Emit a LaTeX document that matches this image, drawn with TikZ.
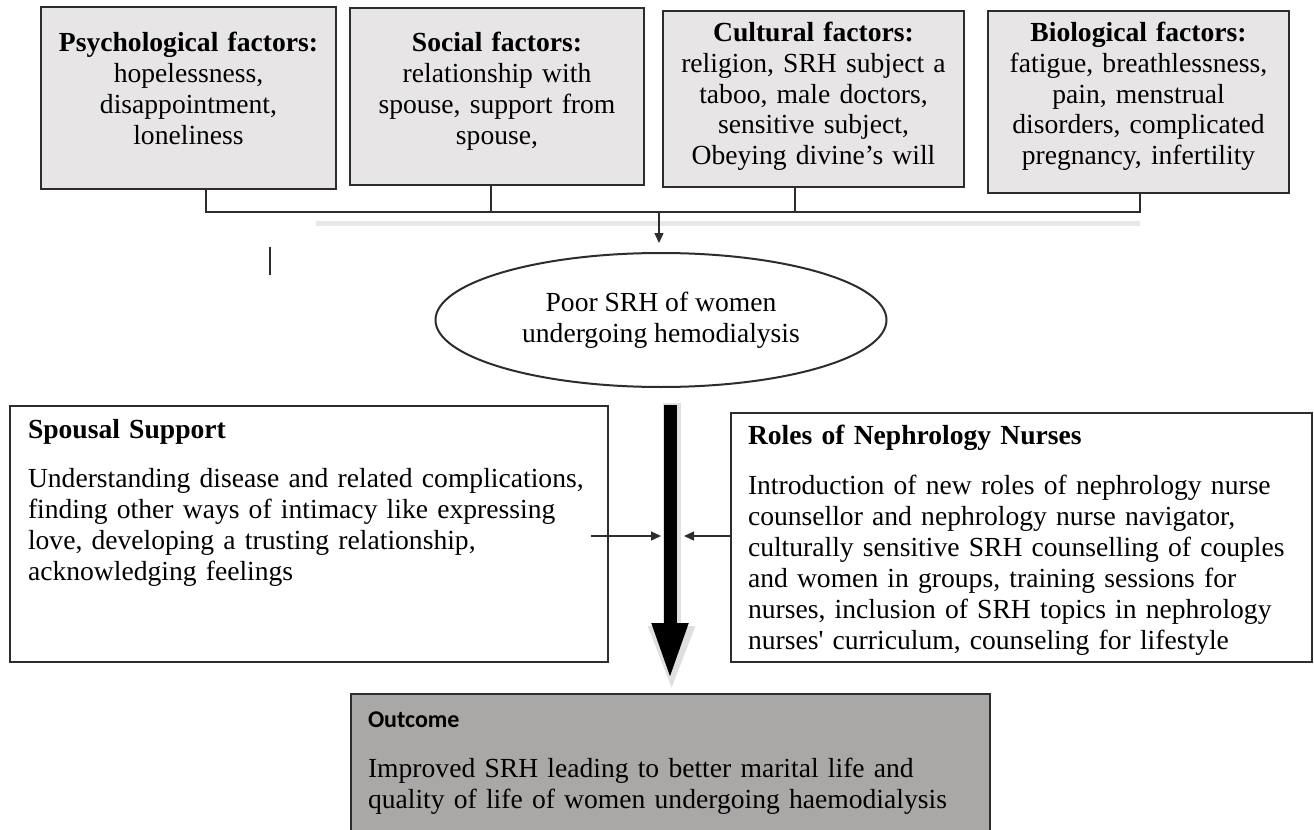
\documentclass[tikz,border=0pt]{standalone}
\usepackage{fontspec}
\setmainfont{Liberation Serif}
\newfontfamily\calibri{Carlito}
\usetikzlibrary{arrows.meta, positioning, calc, shapes.geometric}

\definecolor{factorgray}{RGB}{231,229,229}
\definecolor{outgray}{RGB}{170,167,167}
\definecolor{framegray}{RGB}{45,45,45}

\begin{document}
\begin{tikzpicture}[
    x=0.5pt, y=-0.5pt,
    factor/.style={rectangle, draw=framegray, line width=1pt, fill=factorgray, anchor=north west, align=center, inner sep=0pt, font=\fontsize{13.8}{15.5}\selectfont},
    panel/.style={rectangle, draw=framegray, line width=1pt, fill=white, anchor=north west, align=left, inner ysep=0pt, font=\fontsize{13.8}{15.5}\selectfont},
    line/.style={draw=framegray, line width=0.8pt},
    thinarrow/.style={draw=framegray, line width=0.7pt, -{Triangle[length=5pt, width=4.5pt]}},
    bigarrow/.style={draw=black, line width=6.5pt, -{Triangle[length=28.5pt, width=16.5pt]}}
]
    \path [use as bounding box, fill=white] (0,0) rectangle (1314,830);

    % factors
    \node [factor, text width=147.5pt, text height=22.5pt, text depth=68.5pt] (psych) at (40,6) {\textbf{Psychological factors:}\\hopelessness,\\disappointment,\\loneliness};
    \node [factor, text width=147pt, text height=22pt, text depth=66.5pt] (social) at (349,7) {\textbf{Social factors:}\\relationship with\\spouse, support from\\spouse,};
    \node [factor, text width=150.5pt, text height=15pt, text depth=73pt] (cultural) at (662,10) {\textbf{Cultural factors:}\\religion, SRH subject a\\taboo, male doctors,\\sensitive subject,\\Obeying divine’s will};
    \node [factor, text width=150.5pt, text height=15pt, text depth=76pt] (bio) at (987,10) {\textbf{Biological factors:}\\fatigue, breathlessness,\\pain, menstrual\\disorders, complicated\\pregnancy, infertility};

    \coordinate (bar) at (659,212);
    \draw [gray!18, line width=2.5pt] (316,223) -- (1140,223);
    \draw [line] ([xshift=8.75pt]psych.south) |- (bar) -| ([xshift=0.75pt]bio.south);
    \draw [line] ([xshift=-3pt]social.south) -- ([xshift=-3pt]social.south |- bar);
    \draw [line] ([xshift=-9.25pt]cultural.south) -- ([xshift=-9.25pt]cultural.south |- bar);

    \draw [framegray, line width=0.6pt] (270,247) -- (270,275);

    % problem
    \node [ellipse, draw=framegray, line width=1pt, minimum width=225.5pt, minimum height=67pt, inner sep=0pt, align=center, font=\fontsize{13.8}{15.5}\selectfont] (poor) at (661,320) {Poor SRH of women\\undergoing hemodialysis};
    \draw [thinarrow] (bar) -- ([yshift=4.5pt]bar |- poor.north);

    % spouse and nurses
    \node [panel, text width=281pt, inner xsep=9pt, text height=16pt, text depth=112pt] (spouse) at (9,405) {\textbf{Spousal Support}\\[9pt]Understanding disease and related complications,\\finding other ways of intimacy like expressing\\love, developing a trusting relationship,\\acknowledging feelings};
    \node [panel, text width=273.5pt, inner xsep=8.5pt, text height=15.5pt, text depth=109pt] (roles) at (730,412) {\textbf{Roles of Nephrology Nurses}\\[9.5pt]Introduction of new roles of nephrology nurse\\counsellor and nephrology nurse navigator,\\culturally sensitive SRH counselling of couples\\and women in groups, training sessions for\\nurses, inclusion of SRH topics in nephrology\\nurses\textquotesingle{} curriculum, counseling for lifestyle};

    % outcome
    \node [panel, fill=outgray, text width=302.5pt, inner xsep=8.5pt, text height=16.5pt, text depth=60pt] (outcome) at (350,693) {{\calibri\bfseries\fontsize{12}{14}\selectfont Outcome}\\[9.5pt]Improved SRH leading to better marital life and\\quality of life of women undergoing haemodialysis};

    \coordinate (shafttop) at (670,405);
    \coordinate (shafttip) at (670,680);
    \draw [bigarrow, draw=gray!25, line width=9pt, -{Triangle[length=33pt, width=21pt]}] ([xshift=0.8pt,yshift=1pt]shafttop) -- ([xshift=0.8pt,yshift=-6pt]shafttip);
    \draw [bigarrow] (shafttop) -- (shafttip);

    \coordinate (leftin) at (661,536);
    \coordinate (rightin) at (684,536);
    \draw [thinarrow] ([xshift=-9pt]spouse.east |- leftin) -- (leftin);
    \draw [thinarrow] (roles.west |- rightin) -- (rightin);
\end{tikzpicture}
\end{document}
